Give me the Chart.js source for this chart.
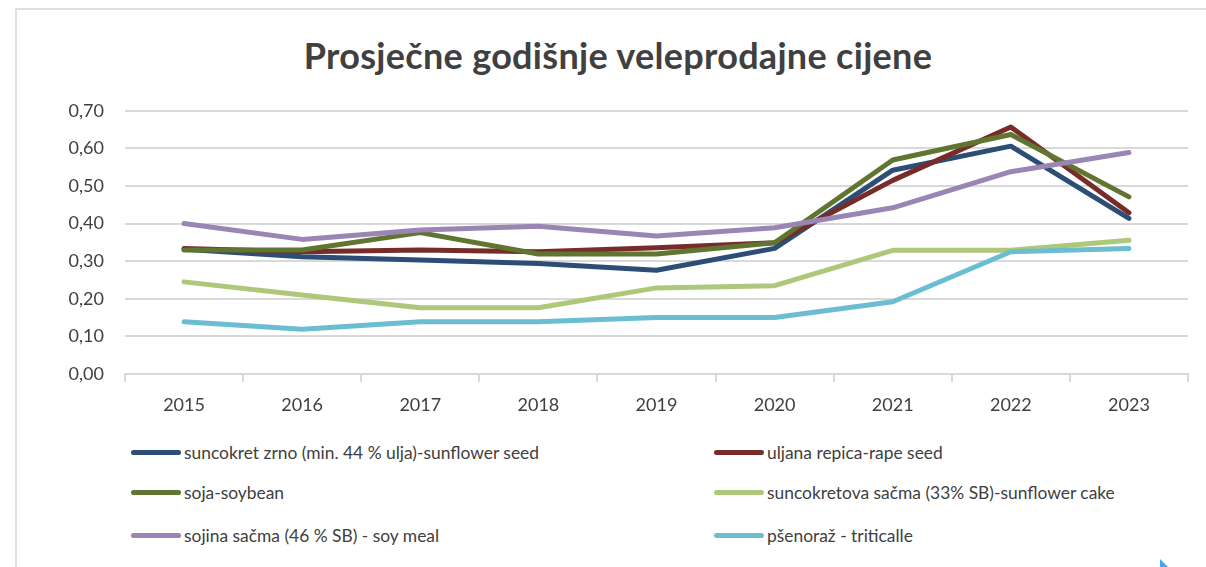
<!DOCTYPE html>
<html>
<head>
<meta charset="utf-8">
<script src="https://cdn.jsdelivr.net/npm/chart.js@4/dist/chart.umd.min.js"></script>
<style>
  html, body { margin: 0; padding: 0; background: #fff; }
  body { width: 1206px; height: 567px; position: relative; overflow: hidden; font-family: Lato, "Open Sans", sans-serif; }
  .frame { position: absolute; left: 15px; top: 8px; width: 1200px; height: 600px; border-left: 2px solid #e0e0e0; border-top: 2px solid #e0e0e0; }
  .title { position: absolute; left: 0; width: 1236px; top: 33px; text-align: center; font-size: 36px; font-weight: bold; color: #404040; letter-spacing: 0.3px; }
  .chart-wrap { position: absolute; left: 0; top: 79px; width: 1206px; height: 351px; }
  .legend { position: absolute; left: 0; top: 0; }
  .legend-item { position: absolute; display: flex; align-items: center; font-size: 17.4px; color: #404040; white-space: nowrap; }
  .legend-item .swatch { width: 50px; height: 5px; border-radius: 3px; margin-right: 3px; }
  .corner { position: absolute; left: 1160px; top: 559px; width: 0; height: 0; border-left: 8px solid #4aa3f0; border-top: 8px solid transparent; }
</style>
</head>
<body>
<div class="frame"></div>
<div class="title">Prosječne godišnje veleprodajne cijene</div>
<div class="chart-wrap"><canvas id="priceChart" width="1206" height="351"></canvas></div>
<div class="legend" id="legend"></div>
<div class="corner"></div>
<script>
const YEARS = ['2015', '2016', '2017', '2018', '2019', '2020', '2021', '2022', '2023'];

const SERIES_NAMES = [
  'suncokret zrno (min. 44 % ulja)-sunflower seed',
  'uljana repica-rape seed',
  'soja-soybean',
  'suncokretova sačma (33% SB)-sunflower cake',
  'sojina sačma (46 % SB) - soy meal',
  'pšenoraž - triticalle',
];

const SUNFLOWER_SEED = [0.332, 0.312, 0.303, 0.294, 0.276, 0.334, 0.542, 0.606, 0.414];
const RAPE_SEED      = [0.334, 0.325, 0.330, 0.325, 0.336, 0.349, 0.515, 0.657, 0.429];
const SOYBEAN        = [0.330, 0.330, 0.376, 0.319, 0.319, 0.349, 0.569, 0.637, 0.471];
const SUNFLOWER_CAKE = [0.245, 0.210, 0.176, 0.176, 0.229, 0.235, 0.329, 0.329, 0.356];
const SOY_MEAL       = [0.400, 0.358, 0.383, 0.393, 0.367, 0.389, 0.442, 0.538, 0.589];
const TRITICALE      = [0.139, 0.119, 0.139, 0.139, 0.150, 0.150, 0.192, 0.325, 0.334];

const SERIES_VALUES = [SUNFLOWER_SEED, RAPE_SEED, SOYBEAN, SUNFLOWER_CAKE, SOY_MEAL, TRITICALE];
const COLORS = ['#2c4d75', '#772c2a', '#5f7530', '#adc878', '#9a85b5', '#6bbdd1'];

// draw order: later datasets are on top
const DRAW_ORDER = [3, 5, 0, 1, 2, 4];

const FONT = 'Lato, "Open Sans", sans-serif';
const GRID_COLOR = '#d9d9d9';

const datasets = SERIES_NAMES.map((name, i) => ({
  label: name,
  data: SERIES_VALUES[i],
  borderColor: COLORS[i],
  backgroundColor: COLORS[i],
  borderWidth: 5,
  pointRadius: 0,
  tension: 0,
  borderCapStyle: 'round',
  borderJoinStyle: 'round',
  order: DRAW_ORDER.length - DRAW_ORDER.indexOf(i),
}));

new Chart(document.getElementById('priceChart'), {
  type: 'line',
  data: { labels: YEARS, datasets },
  options: {
    responsive: false,
    animation: false,
    layout: { padding: { left: 0, right: 18, top: 9, bottom: 0 } },
    plugins: { legend: { display: false }, tooltip: { enabled: false } },
    scales: {
      x: {
        offset: true,
        grid: { offset: true, drawOnChartArea: false, color: GRID_COLOR, lineWidth: 2, tickLength: 8 },
        border: { color: GRID_COLOR, width: 2 },
        ticks: { color: '#404040', font: { family: FONT, size: 18 }, padding: 12, maxRotation: 0 },
        afterFit: s => { s.height = 56; },
      },
      y: {
        min: 0, max: 0.7,
        grid: { color: GRID_COLOR, lineWidth: 2, drawTicks: false },
        border: { display: false },
        ticks: {
          stepSize: 0.1,
          color: '#404040',
          font: { family: FONT, size: 18 },
          padding: 21,
          callback: v => v.toFixed(2).replace('.', ','),
        },
        afterFit: s => { s.width = 125; },
      },
    },
  },
});

// HTML legend, two columns
const legendPos = [[131, 453], [714, 453], [131, 493], [714, 493], [131, 536], [714, 536]];
const legendEl = document.getElementById('legend');
SERIES_NAMES.forEach((name, i) => {
  const item = document.createElement('div');
  item.className = 'legend-item';
  item.style.left = legendPos[i][0] + 'px';
  item.style.top = (legendPos[i][1] - 11) + 'px';
  item.innerHTML = `<span class="swatch" style="background:${COLORS[i]}"></span><span>${name}</span>`;
  legendEl.appendChild(item);
});
</script>
</body>
</html>
